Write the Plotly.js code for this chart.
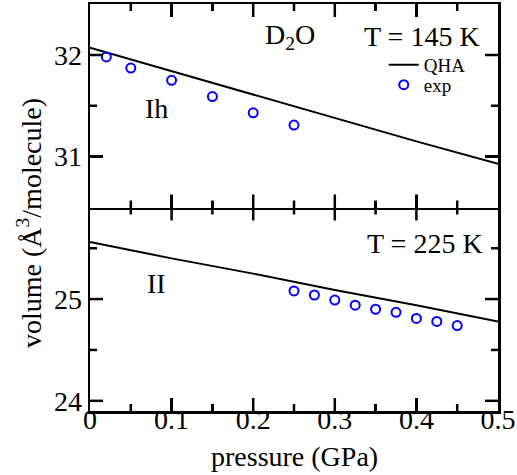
<!DOCTYPE html>
<html>
<head>
<meta charset="utf-8">
<script src="https://cdn.plot.ly/plotly-3.0.1.min.js"></script>
<style>html,body{margin:0;padding:0;background:#fff;}#chart{width:517px;height:475px;}</style>
</head>
<body>
<div id="chart"></div>
<script>
// Top panel (Ih, T = 145 K)
const qhaIhP = [0, 0.1, 0.2, 0.3, 0.4, 0.5];
const qhaIhV = [32.07, 31.84, 31.61, 31.38, 31.15, 30.93];
const expIhP = [0.02, 0.05, 0.1, 0.15, 0.2, 0.25];
const expIhV = [31.98, 31.87, 31.75, 31.59, 31.43, 31.31];
// Bottom panel (II, T = 225 K)
const qhaIIP = [0, 0.1, 0.2, 0.3, 0.4, 0.5];
const qhaIIV = [25.56, 25.40, 25.25, 25.09, 24.94, 24.78];
const expIIP = [0.25, 0.275, 0.3, 0.325, 0.35, 0.375, 0.4, 0.425, 0.45];
const expIIV = [25.08, 25.04, 24.99, 24.94, 24.90, 24.87, 24.81, 24.78, 24.74];
// Axis ranges and tick values
const xRange = [0, 0.5];
const yRangeIh = [30.5, 32.5];
const yRangeII = [23.9, 25.9];
const xMajorTicks = [0.1, 0.2, 0.3, 0.4];
const xMinorTicks = [0.05, 0.15, 0.25, 0.35, 0.45];
const yMajorTicksIh = [31, 32];
const yMinorTicksIh = [31.5];
const yMajorTicksII = [24, 25];
const yMinorTicksII = [24.5, 25.5];

const FONT = 'Liberation Serif, Times New Roman, serif';
const lineStyle = {color: 'black', width: 2};
const markerStyle = {symbol: 'circle-open', size: 9, color: 'blue', line: {color: 'blue', width: 2}};

const traces = [
  {x: qhaIhP, y: qhaIhV, xaxis: 'x2', yaxis: 'y2', mode: 'lines', name: 'QHA', line: lineStyle, legend: 'legend'},
  {x: expIhP, y: expIhV, xaxis: 'x2', yaxis: 'y2', mode: 'markers', name: 'exp', marker: markerStyle, legend: 'legend2'},
  {x: qhaIIP, y: qhaIIV, xaxis: 'x', yaxis: 'y', mode: 'lines', name: 'QHA', line: lineStyle, showlegend: false},
  {x: expIIP, y: expIIV, xaxis: 'x', yaxis: 'y', mode: 'markers', name: 'exp', marker: markerStyle, showlegend: false}
];

const minorX = {dtick: 0.05, tick0: 0, ticks: 'inside', ticklen: 7, tickwidth: 2.5, tickcolor: 'black'};
const minorY = {dtick: 0.5, tick0: 0, ticks: 'inside', ticklen: 7, tickwidth: 2.5, tickcolor: 'black'};

function axisBase(extra) {
  return Object.assign({
    showline: true, linewidth: 2.5, linecolor: 'black', mirror: 'ticks',
    ticks: 'inside', ticklen: 13, tickwidth: 2.5, tickcolor: 'black',
    showgrid: false, zeroline: false, fixedrange: true,
    tickfont: {family: FONT, size: 28, color: 'black'}
  }, extra);
}

// tick marks drawn as shapes through the axes (inward on all four sides)
const tickLine = {color: 'black', width: 2.5};
function xTickShapes(xa, ya, vals, len) {
  const out = [];
  vals.forEach(v => {
    out.push({type: 'line', xref: xa, yref: ya + ' domain', ysizemode: 'pixel', yanchor: 0,
      x0: v, x1: v, y0: 0, y1: len, line: tickLine});
    out.push({type: 'line', xref: xa, yref: ya + ' domain', ysizemode: 'pixel', yanchor: 1,
      x0: v, x1: v, y0: 0, y1: -len, line: tickLine});
  });
  return out;
}
function yTickShapes(xa, ya, vals, len) {
  const out = [];
  vals.forEach(v => {
    out.push({type: 'line', xref: xa + ' domain', yref: ya, xsizemode: 'pixel', xanchor: 0,
      x0: 0, x1: len, y0: v, y1: v, line: tickLine});
    out.push({type: 'line', xref: xa + ' domain', yref: ya, xsizemode: 'pixel', xanchor: 1,
      x0: 0, x1: -len, y0: v, y1: v, line: tickLine});
  });
  return out;
}
const shapes = [].concat(
  xTickShapes('x', 'y', xMajorTicks, 13), xTickShapes('x', 'y', xMinorTicks, 7),
  xTickShapes('x2', 'y2', xMajorTicks, 13), xTickShapes('x2', 'y2', xMinorTicks, 7),
  yTickShapes('x', 'y', yMajorTicksII, 13), yTickShapes('x', 'y', yMinorTicksII, 7),
  yTickShapes('x2', 'y2', yMajorTicksIh, 13), yTickShapes('x2', 'y2', yMinorTicksIh, 7)
);

const legendFont = {family: FONT, size: 19, color: 'black'};

const layout = {
  width: 517, height: 475,
  margin: {l: 90, r: 19, t: 4, b: 64},
  paper_bgcolor: 'white', plot_bgcolor: 'white',
  font: {family: FONT, color: 'black'},
  showlegend: true,
  legend: {x: 0.72, y: 0.897, xanchor: 'left', yanchor: 'top', bgcolor: 'rgba(0,0,0,0)', font: legendFont},
  legend2: {x: 0.72, y: 0.848, xanchor: 'left', yanchor: 'top', bgcolor: 'rgba(0,0,0,0)', font: legendFont},
  xaxis: axisBase({domain: [0, 1], anchor: 'y', range: xRange, dtick: 0.1, tick0: 0, minor: minorX,
    mirror: false, ticklabelstandoff: -18}),
  yaxis: axisBase({domain: [0, 0.5], anchor: 'x', range: yRangeII, dtick: 1, tick0: 0, minor: minorY}),
  xaxis2: axisBase({domain: [0, 1], anchor: 'y2', range: xRange, dtick: 0.1, tick0: 0, minor: minorX,
    showticklabels: false}),
  yaxis2: axisBase({domain: [0.5, 1], anchor: 'x2', range: yRangeIh, dtick: 1, tick0: 0, minor: minorY}),
  shapes: shapes,
  annotations: [
    {text: 'D<sub>2</sub>O', xref: 'x2', yref: 'y2', x: 0.245, y: 32.18, showarrow: false,
     font: {family: FONT, size: 28, color: 'black'}},
    {text: 'T = 145 K', xref: 'x2', yref: 'y2', x: 0.407, y: 32.18, showarrow: false,
     font: {family: FONT, size: 28, color: 'black'}},
    {text: 'Ih', xref: 'x2', yref: 'y2', x: 0.082, y: 31.47, showarrow: false,
     font: {family: FONT, size: 28, color: 'black'}},
    {text: 'II', xref: 'x', yref: 'y', x: 0.081, y: 25.155, showarrow: false,
     font: {family: FONT, size: 28, color: 'black'}},
    {text: 'T = 225 K', xref: 'x', yref: 'y', x: 0.41, y: 25.55, showarrow: false,
     font: {family: FONT, size: 28, color: 'black'}},
    {text: 'pressure (GPa)', xref: 'paper', yref: 'paper', x: 0.5, y: -0.112,
     xanchor: 'center', yanchor: 'middle', showarrow: false,
     font: {family: FONT, size: 28, color: 'black'}},
    {text: 'volume (Å<sup>3</sup>/molecule)', xref: 'paper', yref: 'paper', x: -0.147, y: 0.462,
     xanchor: 'center', yanchor: 'middle', textangle: -90, showarrow: false,
     font: {family: FONT, size: 28, color: 'black'}}
  ]
};

Plotly.newPlot('chart', traces, layout, {displayModeBar: false, staticPlot: true});
</script>
</body>
</html>
